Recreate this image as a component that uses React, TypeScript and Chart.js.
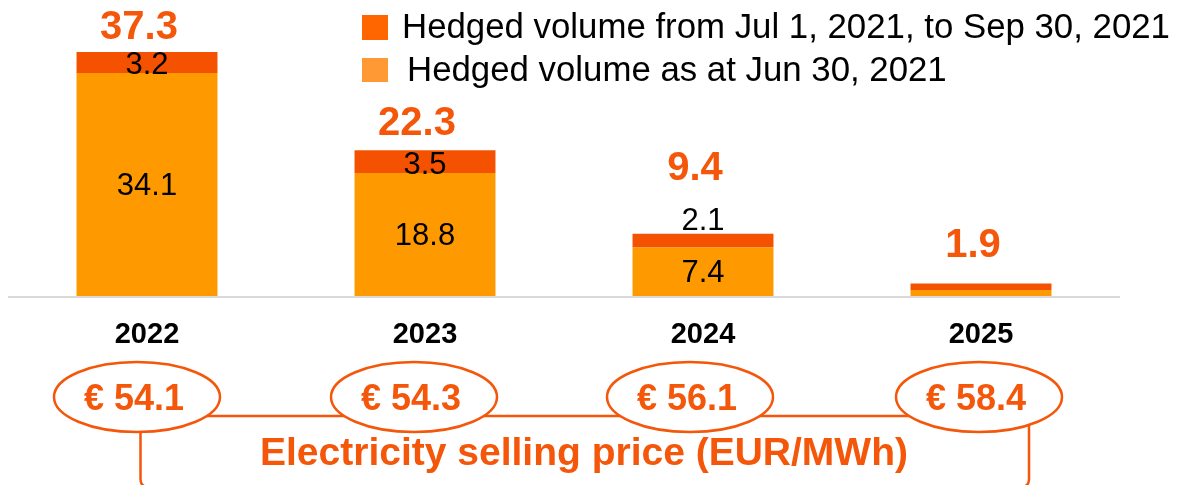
import React, { useEffect, useRef } from "react";
import { Chart, registerables } from "chart.js";
Chart.register(...registerables);

const years = ["2022", "2023", "2024", "2025"];
const hedgedAsAtJun30 = [34.1, 18.8, 7.4, 0.9];
const hedgedJulToSep = [3.2, 3.5, 2.1, 1.0];
const totals = [37.3, 22.3, 9.4, 1.9];
const prices = ["€ 54.1", "€ 54.3", "€ 56.1", "€ 58.4"];
const legendLabels = [
  "Hedged volume from Jul 1, 2021, to Sep 30, 2021",
  "Hedged volume as at Jun 30, 2021",
];
const priceTitle = "Electricity selling price (EUR/MWh)";

const FONT = '"Liberation Sans", Arial, Helvetica, sans-serif';
const DARK = "#F45200";
const LIGHT = "#FF9900";
const ORANGE_TEXT = "#F4560A";
const LEGEND_DARK = "#FF6600";
const LEGEND_LIGHT = "#FF9933";

const TOTAL_GAP = [13, 15, 54, 27];
const ELLIPSE_OFFSET = [-10, -11, -13, -2];

const overlayPlugin = {
  id: "overlay",
  beforeDatasetsDraw(chart: any) {
    const { ctx, chartArea } = chart;
    const y0 = chart.scales.y.getPixelForValue(0);
    ctx.save();
    ctx.strokeStyle = "#DADADA";
    ctx.lineWidth = 2;
    ctx.beginPath();
    ctx.moveTo(chartArea.left, y0 + 1);
    ctx.lineTo(chartArea.right, y0 + 1);
    ctx.stroke();
    ctx.restore();
  },
  afterDraw(chart: any) {
    const { ctx } = chart;
    const xs = chart.scales.x;
    const metaLight = chart.getDatasetMeta(0);
    const metaDark = chart.getDatasetMeta(1);
    ctx.save();
    ctx.textAlign = "center";

    years.forEach((yr, i) => {
      const cx = xs.getPixelForValue(i);
      const split = metaLight.data[i].y;
      const top = metaDark.data[i].y;
      const base = metaLight.data[i].base;
      ctx.fillStyle = "#000";
      ctx.font = `31px ${FONT}`;
      if (hedgedAsAtJun30[i] >= 2) {
        ctx.textBaseline = "middle";
        ctx.fillText(String(hedgedAsAtJun30[i]), cx, (split + base) / 2 + 2);
      }
      ctx.textBaseline = "alphabetic";
      if (hedgedJulToSep[i] >= 3) {
        ctx.fillText(String(hedgedJulToSep[i]), cx, split + 1);
      } else if (hedgedJulToSep[i] >= 2) {
        ctx.fillText(String(hedgedJulToSep[i]), cx, top - 4);
      }
      ctx.fillStyle = ORANGE_TEXT;
      ctx.font = `bold 40px ${FONT}`;
      ctx.fillText(String(totals[i]), cx - 8, top - TOTAL_GAP[i]);
      ctx.fillStyle = "#000";
      ctx.font = `bold 29px ${FONT}`;
      ctx.fillText(yr, cx, 343);
    });

    const ecx = years.map((_, i) => xs.getPixelForValue(i) + ELLIPSE_OFFSET[i]);
    const ecy = 397;
    const rx = 83;
    const ry = 35;
    ctx.strokeStyle = ORANGE_TEXT;
    ctx.lineWidth = 2.5;
    ctx.beginPath();
    ctx.moveTo(ecx[0], 416);
    ctx.lineTo(ecx[3], 416);
    ctx.stroke();

    ctx.beginPath();
    ctx.moveTo(140.5, 420);
    ctx.lineTo(140.5, 479);
    ctx.quadraticCurveTo(140.5, 487, 148.5, 487);
    ctx.lineTo(1021, 487);
    ctx.quadraticCurveTo(1029, 487, 1029, 479);
    ctx.lineTo(1029, 420);
    ctx.stroke();

    prices.forEach((p, i) => {
      ctx.beginPath();
      ctx.ellipse(ecx[i], ecy, rx, ry, 0, 0, Math.PI * 2);
      ctx.fillStyle = "#fff";
      ctx.fill();
      ctx.stroke();
      ctx.fillStyle = ORANGE_TEXT;
      ctx.font = `bold 36px ${FONT}`;
      ctx.textBaseline = "alphabetic";
      ctx.fillText(p, ecx[i] - 3, 410);
    });

    ctx.fillStyle = ORANGE_TEXT;
    ctx.font = `bold 39px ${FONT}`;
    ctx.fillText(priceTitle, 584, 465);

    ctx.textAlign = "left";
    ctx.font = `34.8px ${FONT}`;
    ctx.fillStyle = LEGEND_DARK;
    ctx.fillRect(362, 15, 26, 25);
    ctx.fillStyle = LEGEND_LIGHT;
    ctx.fillRect(362, 58, 26, 24);
    ctx.fillStyle = "#000";
    ctx.fillText(legendLabels[0], 402, 38);
    ctx.fillText(legendLabels[1], 407, 81);
    ctx.restore();
  },
};

export default function App() {
  const ref = useRef<HTMLCanvasElement>(null);
  useEffect(() => {
    const chart = new Chart(ref.current!, {
      type: "bar",
      data: {
        labels: years,
        datasets: [
          {
            label: legendLabels[1],
            data: hedgedAsAtJun30,
            backgroundColor: LIGHT,
            stack: "s",
            categoryPercentage: 1,
            barPercentage: 0.507,
          },
          {
            label: legendLabels[0],
            data: hedgedJulToSep,
            backgroundColor: DARK,
            stack: "s",
            categoryPercentage: 1,
            barPercentage: 0.507,
          },
        ],
      },
      options: {
        responsive: false,
        animation: false,
        devicePixelRatio: 1,
        layout: { padding: { left: 8, right: 66, top: 34.4, bottom: 189 } },
        plugins: { legend: { display: false }, tooltip: { enabled: false } },
        scales: {
          x: { display: false, stacked: true },
          y: { display: false, stacked: true, min: 0, max: 40 },
        },
      },
      plugins: [overlayPlugin],
    });
    return () => chart.destroy();
  }, []);
  return (
    <div style={{ position: "absolute", left: 0, top: 0, width: 1186, height: 485, background: "#fff" }}>
      <canvas ref={ref} width={1186} height={485} />
    </div>
  );
}
